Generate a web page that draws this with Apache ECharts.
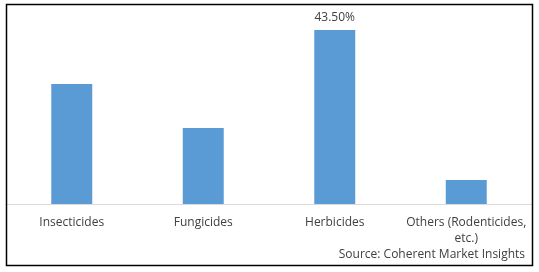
<!DOCTYPE html>
<html>
<head>
<meta charset="utf-8">
<script src="https://cdn.jsdelivr.net/npm/echarts@6/dist/echarts.min.js"></script>
<style>html,body{margin:0;padding:0;background:#fff;}#c{width:539px;height:272px;}</style>
</head>
<body>
<div id="c"></div>
<script>
const categories = ['Insecticides', 'Fungicides', 'Herbicides', 'Others (Rodenticides,\netc.)'];
const shares = [30.0, 19.0, 43.5, 6.0];
const labelled = [false, false, true, false];
const sourceText = 'Source: Coherent Market Insights';

const font = '"Open Sans", "Liberation Sans", sans-serif';
const chart = echarts.init(document.getElementById('c'), null, {renderer: 'canvas'});
chart.setOption({
  animation: false,
  backgroundColor: '#ffffff',
  grid: {left: 6, right: 7, top: 4, bottom: 68, containLabel: false},
  xAxis: {
    type: 'category',
    data: categories,
    axisLine: {show: true, lineStyle: {color: '#d9d9d9', width: 1}},
    axisTick: {show: false},
    axisLabel: {color: '#404040', fontFamily: font, fontSize: 12, margin: 11, lineHeight: 16, interval: 0}
  },
  yAxis: {
    type: 'value', min: 0, max: 50,
    show: false,
    splitLine: {show: false}
  },
  series: [{
    type: 'bar',
    barWidth: 41,
    data: shares.map((v, i) => ({
      value: v,
      label: {show: labelled[i]}
    })),
    itemStyle: {color: '#5b9bd5'},
    label: {
      position: 'top', distance: 6,
      color: '#404040', fontFamily: font, fontSize: 12,
      formatter: p => p.value.toFixed(2) + '%'
    }
  }],
  graphic: [
    {type: 'rect', shape: {x: 6.5, y: 4.5, width: 526, height: 261},
     style: {fill: null, stroke: '#000000', lineWidth: 1.5}, silent: true, z: 10},
    {type: 'text', right: 14, top: 249,
     style: {text: sourceText, fill: '#404040', font: '12px ' + font, textAlign: 'right'}}
  ]
});
</script>
</body>
</html>
